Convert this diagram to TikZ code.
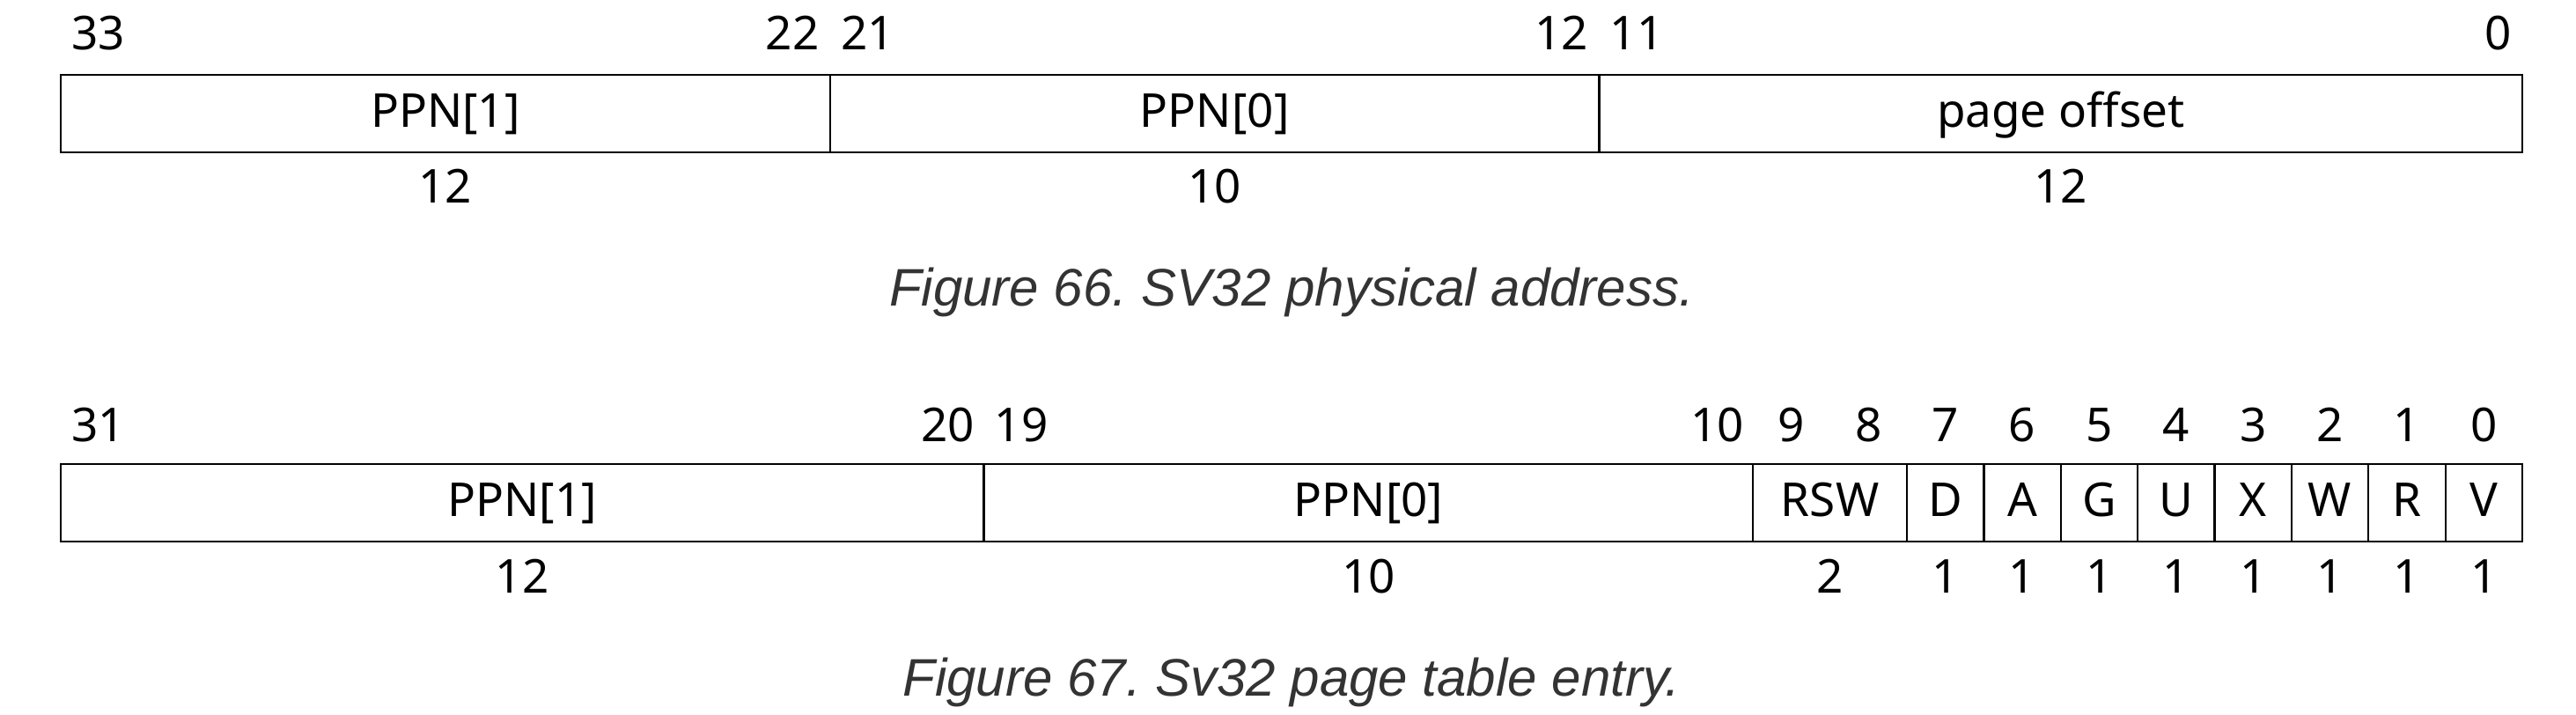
\documentclass[tikz,border=0pt]{standalone}
\usepackage{fontspec}
\usetikzlibrary{positioning}
\newfontfamily\noto{Noto Sans}
\newfontfamily\capfam{Liberation Sans}
\definecolor{capgray}{HTML}{333333}
\frenchspacing
\tikzset{
node distance=0pt, % fields sit edge to edge
field/.style={draw, line width=1.1pt, inner sep=0pt, outer sep=0pt, minimum height=44pt,
  text height=21.5pt, text depth=6pt, font=\noto\fontsize{26.5pt}{30pt}\selectfont}, % one box of a register
bits/.style={minimum width=#1*43.6875pt}, % width of a field, in bits
bitno/.style={anchor=base, inner sep=0pt, font=\noto\fontsize{26.5pt}{30pt}\selectfont}, % bit numbers above the box
bitcount/.style={anchor=base, inner sep=0pt, font=\noto\fontsize{26.5pt}{30pt}\selectfont}, % field widths below the box
caption/.style={anchor=base, inner sep=0pt, text=capgray, font=\capfam\itshape\fontsize{30pt}{36pt}\selectfont},
}
\begin{document}
\begin{tikzpicture}
    \useasboundingbox (0,0) rectangle (1463pt,-406pt);
    % physical address
    \node[field, bits=10, anchor=north west] (pa1) at (34.5pt,-42.5pt) {PPN[1]};
    \node[field, bits=10, right=of pa1] (pa0) {PPN[0]};
    \node[field, bits=12, right=of pa0] (off) {page offset};
    \node[bitno, anchor=base west] (a33) at ([shift={(6pt,14pt)}]pa1.north west) {33};
    \node[bitno, anchor=base east] (a22) at ([shift={(-6pt,14pt)}]pa1.north east) {22};
    \node[bitno, anchor=base west] (a21) at ([shift={(6pt,14pt)}]pa0.north west) {21};
    \node[bitno, anchor=base east] (a12) at ([shift={(-6pt,14pt)}]pa0.north east) {12};
    \node[bitno, anchor=base west] (a11) at ([shift={(6pt,14pt)}]off.north west) {11};
    \node[bitno, anchor=base east] (a0) at ([shift={(-6pt,14pt)}]off.north east) {0};
    \node[bitcount] (wpa1) at ([yshift=-29pt]pa1.south) {12};
    \node[bitcount] (wpa0) at ([yshift=-29pt]pa0.south) {10};
    \node[bitcount] (woff) at ([yshift=-29pt]off.south) {12};
    \node[caption] (cap66) at (733.5pt,-174pt) {Figure 66. SV32 physical address.};

    % page table entry
    \node[field, bits=12, anchor=north west] (pte1) at (34.5pt,-263.5pt) {PPN[1]};
    \node[field, bits=10, right=of pte1] (pte0) {PPN[0]};
    \node[field, bits=2, right=of pte0] (rsw) {RSW};
    \node[bitno, anchor=base west] (b31) at ([shift={(6pt,13pt)}]pte1.north west) {31};
    \node[bitno, anchor=base east] (b20) at ([shift={(-5pt,13pt)}]pte1.north east) {20};
    \node[bitno, anchor=base west] (b19) at ([shift={(6pt,13pt)}]pte0.north west) {19};
    \node[bitno, anchor=base east] (b10) at ([shift={(-5pt,13pt)}]pte0.north east) {10};
    \node[bitno] (b9) at ([shift={(-21.84pt,13pt)}]rsw.north) {9};
    \node[bitno] (b8) at ([shift={(21.84pt,13pt)}]rsw.north) {8};
    \node[bitcount] (wpte1) at ([yshift=-29pt]pte1.south) {12};
    \node[bitcount] (wpte0) at ([yshift=-29pt]pte0.south) {10};
    \node[bitcount] (wrsw) at ([yshift=-29pt]rsw.south) {2};
    \foreach \f/\prev/\b in {D/rsw/7, A/D/6, G/A/5, U/G/4, X/U/3, W/X/2, R/W/1, V/R/0} {
        \node[field, bits=1, right=of \prev] (\f) {\f};
        \node[bitno] (b\b) at ([yshift=13pt]\f.north) {\b};
        \node[bitcount] (w\f) at ([yshift=-29pt]\f.south) {1};
    }
    \node[caption] (cap67) at (733.5pt,-395pt) {Figure 67. Sv32 page table entry.};
\end{tikzpicture}
\end{document}
